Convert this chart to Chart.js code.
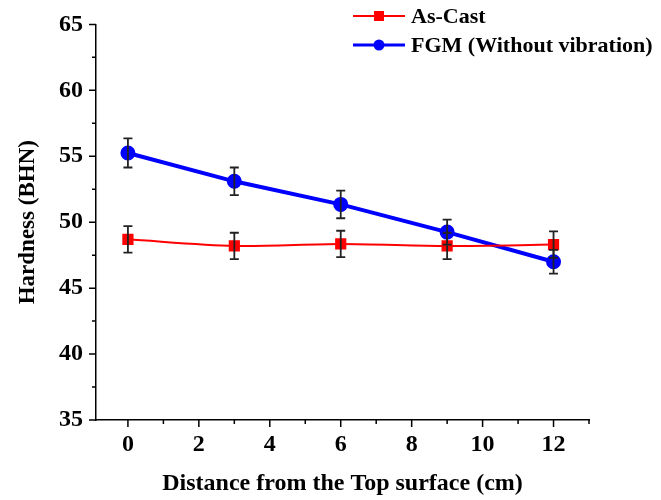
<!DOCTYPE html>
<html>
<head>
<meta charset="utf-8">
<script src="https://cdn.jsdelivr.net/npm/chart.js@4.4.1/dist/chart.umd.min.js"></script>
<style>
    html, body { margin: 0; padding: 0; background: #fff; }
    #wrap { position: relative; width: 661px; height: 500px; }
</style>
</head>
<body>
<div id="wrap"><canvas id="chart"></canvas></div>
<script>
    // --- Données ---
    const distance = [0, 3, 6, 9, 12];
    const asCast = [48.7, 48.2, 48.35, 48.2, 48.3];
    const asCastErr = [1.0, 1.0, 1.0, 1.0, 1.0];
    const fgm = [55.25, 53.1, 51.35, 49.25, 47.0];
    const fgmErr = [1.1, 1.05, 1.05, 0.95, 0.9];
    const xTicks = [0, 2, 4, 6, 8, 10, 12];
    const xMinorTicks = [1, 3, 5, 7, 9, 11, 13];
    const yTicks = [35, 40, 45, 50, 55, 60, 65];
    const yMinorTicks = [37.5, 42.5, 47.5, 52.5, 57.5, 62.5];

    const serif = "'Liberation Serif', 'Times New Roman', serif";
    const tickFont = { family: serif, size: 24, weight: 'bold' };

    function points(xs, ys) {
        return xs.map((x, i) => ({ x: x, y: ys[i] }));
    }

    // Barres d'erreur dessinées par-dessus les courbes
    const errorBars = {
        id: 'errorBars',
        afterDatasetsDraw(chart) {
            const { ctx, scales } = chart;
            ctx.save();
            ctx.strokeStyle = '#222';
            ctx.lineWidth = 1.8;
            chart.data.datasets.forEach(ds => {
                ds.data.forEach((p, i) => {
                    const e = ds.errors[i];
                    const x = scales.x.getPixelForValue(p.x);
                    const y1 = scales.y.getPixelForValue(p.y + e);
                    const y2 = scales.y.getPixelForValue(p.y - e);
                    ctx.beginPath();
                    ctx.moveTo(x, y1); ctx.lineTo(x, y2);
                    ctx.moveTo(x - 4.5, y1); ctx.lineTo(x + 4.5, y1);
                    ctx.moveTo(x - 4.5, y2); ctx.lineTo(x + 4.5, y2);
                    ctx.stroke();
                });
            });
            ctx.restore();
        }
    };

    // Graduations majeures et mineures, vers l'extérieur, puis la légende
    const axisTicks = {
        id: 'axisTicks',
        afterDraw(chart) {
            const { ctx, scales, chartArea } = chart;
            ctx.save();
            ctx.strokeStyle = '#000';
            ctx.lineWidth = 1.5;
            ctx.beginPath();
            xTicks.forEach(v => {
                const x = scales.x.getPixelForValue(v);
                ctx.moveTo(x, chartArea.bottom); ctx.lineTo(x, chartArea.bottom + 7);
            });
            xMinorTicks.forEach(v => {
                const x = scales.x.getPixelForValue(v);
                ctx.moveTo(x, chartArea.bottom); ctx.lineTo(x, chartArea.bottom + 4);
            });
            yTicks.forEach(v => {
                const y = scales.y.getPixelForValue(v);
                ctx.moveTo(chartArea.left, y); ctx.lineTo(chartArea.left - 7, y);
            });
            yMinorTicks.forEach(v => {
                const y = scales.y.getPixelForValue(v);
                ctx.moveTo(chartArea.left, y); ctx.lineTo(chartArea.left - 4, y);
            });
            ctx.stroke();

            ctx.font = 'bold 22px ' + serif;
            ctx.textBaseline = 'middle';
            chart.data.datasets.forEach((ds, i) => {
                const y = 16 + i * 29;
                ctx.strokeStyle = ds.borderColor;
                ctx.lineWidth = i === 0 ? 2 : 3;
                ctx.beginPath();
                ctx.moveTo(353, y); ctx.lineTo(405, y);
                ctx.stroke();
                ctx.fillStyle = ds.pointBackgroundColor;
                ctx.beginPath();
                if (ds.pointStyle === 'rect') ctx.rect(374, y - 5, 10, 10);
                else ctx.arc(379, y, 5.5, 0, Math.PI * 2);
                ctx.fill();
                ctx.fillStyle = '#000';
                ctx.fillText(ds.label, 411, y + 1);
            });
            ctx.restore();
        }
    };

    new Chart(document.getElementById('chart'), {
        type: 'line',
        data: {
            datasets: [{
                label: 'As-Cast',
                data: points(distance, asCast),
                errors: asCastErr,
                borderColor: '#ff0000',
                backgroundColor: '#ff0000',
                pointBackgroundColor: '#ff0000',
                pointBorderColor: '#ff0000',
                pointStyle: 'rect',
                pointRadius: 6.5,
                borderWidth: 2,
                tension: 0.3
            }, {
                label: 'FGM (Without vibration)',
                data: points(distance, fgm),
                errors: fgmErr,
                borderColor: '#0000ff',
                backgroundColor: '#0000ff',
                pointBackgroundColor: '#0000ff',
                pointBorderColor: '#0000ff',
                pointStyle: 'circle',
                pointRadius: 5.5,
                borderWidth: 4,
                tension: 0
            }]
        },
        options: {
            responsive: true,
            maintainAspectRatio: false,
            animation: false,
            layout: { padding: { left: 0, top: 20, right: 72, bottom: 0 } },
            plugins: { legend: { display: false }, tooltip: { enabled: false } },
            scales: {
                x: {
                    type: 'linear',
                    min: -0.9,
                    max: 13,
                    afterBuildTicks: s => { s.ticks = xTicks.map(v => ({ value: v })); },
                    afterFit: s => { s.height = 80; },
                    grid: { display: false, drawTicks: false },
                    border: { display: true, color: '#000', width: 1.5 },
                    ticks: { font: tickFont, color: '#000', padding: 10, maxRotation: 0 },
                    title: {
                        display: true,
                        text: 'Distance from the Top surface (cm)',
                        font: tickFont,
                        color: '#000',
                        padding: 2
                    }
                },
                y: {
                    min: 35,
                    max: 65,
                    afterBuildTicks: s => { s.ticks = yTicks.map(v => ({ value: v })); },
                    afterFit: s => { s.width = 96; },
                    // tickLength non dessiné (grid masquée) mais compté pour décaler les libellés
                    grid: { display: false, drawTicks: true, tickLength: 3 },
                    border: { display: true, color: '#000', width: 1.5 },
                    ticks: { font: tickFont, color: '#000', padding: 10 },
                    title: {
                        display: true,
                        text: 'Hardness (BHN)',
                        font: { family: serif, size: 23, weight: 'bold' },
                        color: '#000',
                        padding: 14
                    }
                }
            }
        },
        plugins: [errorBars, axisTicks]
    });
</script>
</body>
</html>
